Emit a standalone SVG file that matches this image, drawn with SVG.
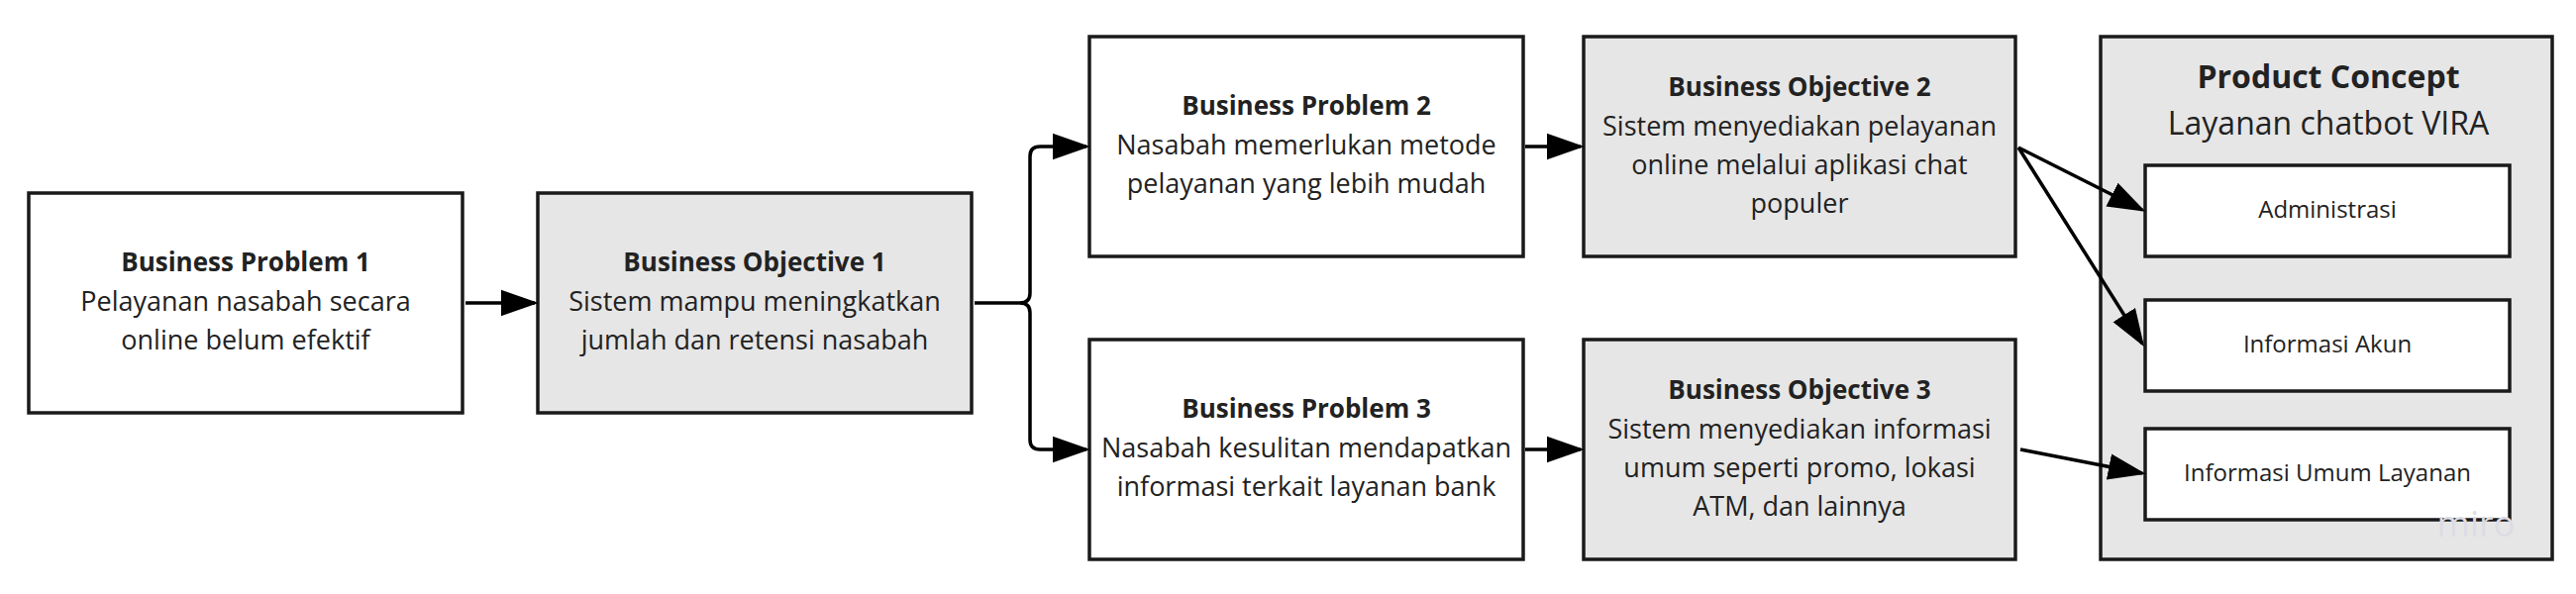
<svg xmlns="http://www.w3.org/2000/svg" width="2601" height="600" viewBox="0 0 2601 600">
<style>
.b{stroke:#1a1a1a;stroke-width:3.5}
.w{fill:#fff}.g{fill:#e6e6e6}
text{font-family:"Open Sans","Noto Sans",sans-serif;fill:#222;text-anchor:middle}
.t{font-size:26px;font-weight:bold}
.d{font-size:27px}
.s{font-size:24px}
.c{fill:none;stroke:#000;stroke-width:3.5}
</style>
<defs>
<marker id="m" viewBox="0 0 10 10" refX="9" refY="5" markerWidth="38" markerHeight="38" orient="auto" markerUnits="userSpaceOnUse"><path d="M0,1.5L10,5L0,8.5z"/></marker></defs>
<g id="bp1"><rect class="b w" x="29" y="195" width="438" height="222"/><text class="t" x="248" y="274">Business Problem 1</text><text class="d" x="248" y="314">Pelayanan nasabah secara</text><text class="d" x="248" y="353">online belum efektif</text></g>
<g id="bo1"><rect class="b g" x="543" y="195" width="438" height="222"/><text class="t" x="762" y="274">Business Objective 1</text><text class="d" x="762" y="314">Sistem mampu meningkatkan</text><text class="d" x="762" y="353">jumlah dan retensi nasabah</text></g>
<g id="bp2"><rect class="b w" x="1100" y="37" width="438" height="222"/><text class="t" x="1319" y="116">Business Problem 2</text><text class="d" x="1319" y="156">Nasabah memerlukan metode</text><text class="d" x="1319" y="195">pelayanan yang lebih mudah</text></g>
<g id="bp3"><rect class="b w" x="1100" y="343" width="438" height="222"/><text class="t" x="1319" y="422">Business Problem 3</text><text class="d" x="1319" y="462">Nasabah kesulitan mendapatkan</text><text class="d" x="1319" y="501">informasi terkait layanan bank</text></g>
<g id="bo2"><rect class="b g" x="1599" y="37" width="436" height="222"/><text class="t" x="1817" y="97">Business Objective 2</text><text class="d" x="1817" y="137">Sistem menyediakan pelayanan</text><text class="d" x="1817" y="176">online melalui aplikasi chat</text><text class="d" x="1817" y="215">populer</text></g>
<g id="bo3"><rect class="b g" x="1599" y="343" width="436" height="222"/><text class="t" x="1817" y="403">Business Objective 3</text><text class="d" x="1817" y="443">Sistem menyediakan informasi</text><text class="d" x="1817" y="482">umum seperti promo, lokasi</text><text class="d" x="1817" y="521">ATM, dan lainnya</text></g>
<g id="pc"><rect class="b g" x="2121" y="37" width="456" height="528"/><text x="2351" y="89" style="font-size:32px;font-weight:bold">Product Concept</text><text x="2351" y="136" style="font-size:32px">Layanan chatbot VIRA</text></g>
<g id="adm"><rect class="b w" x="2166" y="167" width="368" height="92"/><text class="s" x="2350" y="220">Administrasi</text></g>
<g id="akun"><rect class="b w" x="2166" y="303" width="368" height="92"/><text class="s" x="2350" y="356">Informasi Akun</text></g>
<g id="umum"><rect class="b w" x="2166" y="433" width="368" height="92"/><text class="s" x="2350" y="486">Informasi Umum Layanan</text></g>
<text x="2500" y="542" style="font-size:36px;fill:#dcdce4">miro</text>
<g id="connectors">
<path class="c" d="M470,306H540" marker-end="url(#m)"/>
<path class="c" d="M984,306H1030Q1040,306 1040,296V158Q1040,148 1050,148H1097" marker-end="url(#m)"/>
<path class="c" d="M1030,306Q1040,306 1040,316V444Q1040,454 1050,454H1097" marker-end="url(#m)"/>
<path class="c" d="M1540,148H1596" marker-end="url(#m)"/>
<path class="c" d="M1540,454H1596" marker-end="url(#m)"/>
<path class="c" d="M2038,149L2163,212" marker-end="url(#m)"/>
<path class="c" d="M2038,149L2163,347" marker-end="url(#m)"/>
<path class="c" d="M2040,454L2163,478" marker-end="url(#m)"/>
</g>
</svg>
